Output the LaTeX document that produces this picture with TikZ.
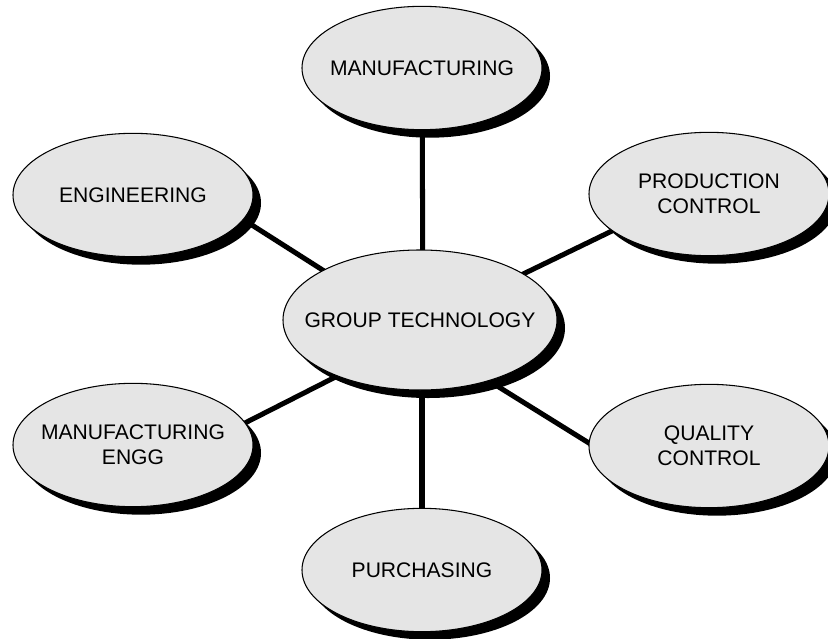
\documentclass[tikz,border=0pt]{standalone}
\usepackage{fontspec}
\setmainfont{Liberation Sans}
\usetikzlibrary{shapes.geometric,shadows,calc,backgrounds}
\tikzset{
	blase/.style={ellipse,draw=black,line width=0.9pt,fill=gray!20,inner xsep=-1cm,inner ysep=0pt,align=center,
		minimum width=7.2cm,minimum height=3.7cm,font=\fontsize{18}{21}\selectfont,
		drop shadow={shadow xshift=0.24cm,shadow yshift=-0.24cm,fill=black,opacity=1}},
	kern/.style={blase,minimum width=8.22cm,minimum height=4.2cm},
	stab/.style={line width=4.3pt}
}
\begin{document}
\begin{tikzpicture}[x=0.03cm,y=-0.03cm]
\useasboundingbox (0,0) rectangle (828,639);
\node[kern] (gt) at (420,320) {GROUP TECHNOLOGY};
\node[blase] (manuf) at (422,68) {MANUFACTURING};
\node[blase] (eng) at (133,195) {ENGINEERING};
\node[blase] (prod) at (709,194) {PRODUCTION\\CONTROL};
\node[blase] (meng) at (133,445) {MANUFACTURING\\ENGG};
\node[blase] (qual) at (709,446) {QUALITY\\CONTROL};
\node[blase] (purch) at (422,570) {PURCHASING};
\begin{scope}[on background layer]
\draw[stab] ($(gt)+(3,0)$) -- (manuf);
\draw[stab] ($(gt)+(0,12)$) -- ($(eng)+(67,-3)$);
\draw[stab] ($(gt)+(0,4)$) -- ($(prod)+(-29,4)$);
\draw[stab] ($(gt)+(0,14)$) -- ($(meng)+(47,11)$);
\draw[stab] ($(gt)+(0,18)$) -- ($(qual)+(-59,35)$);
\draw[stab] ($(gt)+(2,0)$) -- (purch);
\end{scope}
\end{tikzpicture}
\end{document}
